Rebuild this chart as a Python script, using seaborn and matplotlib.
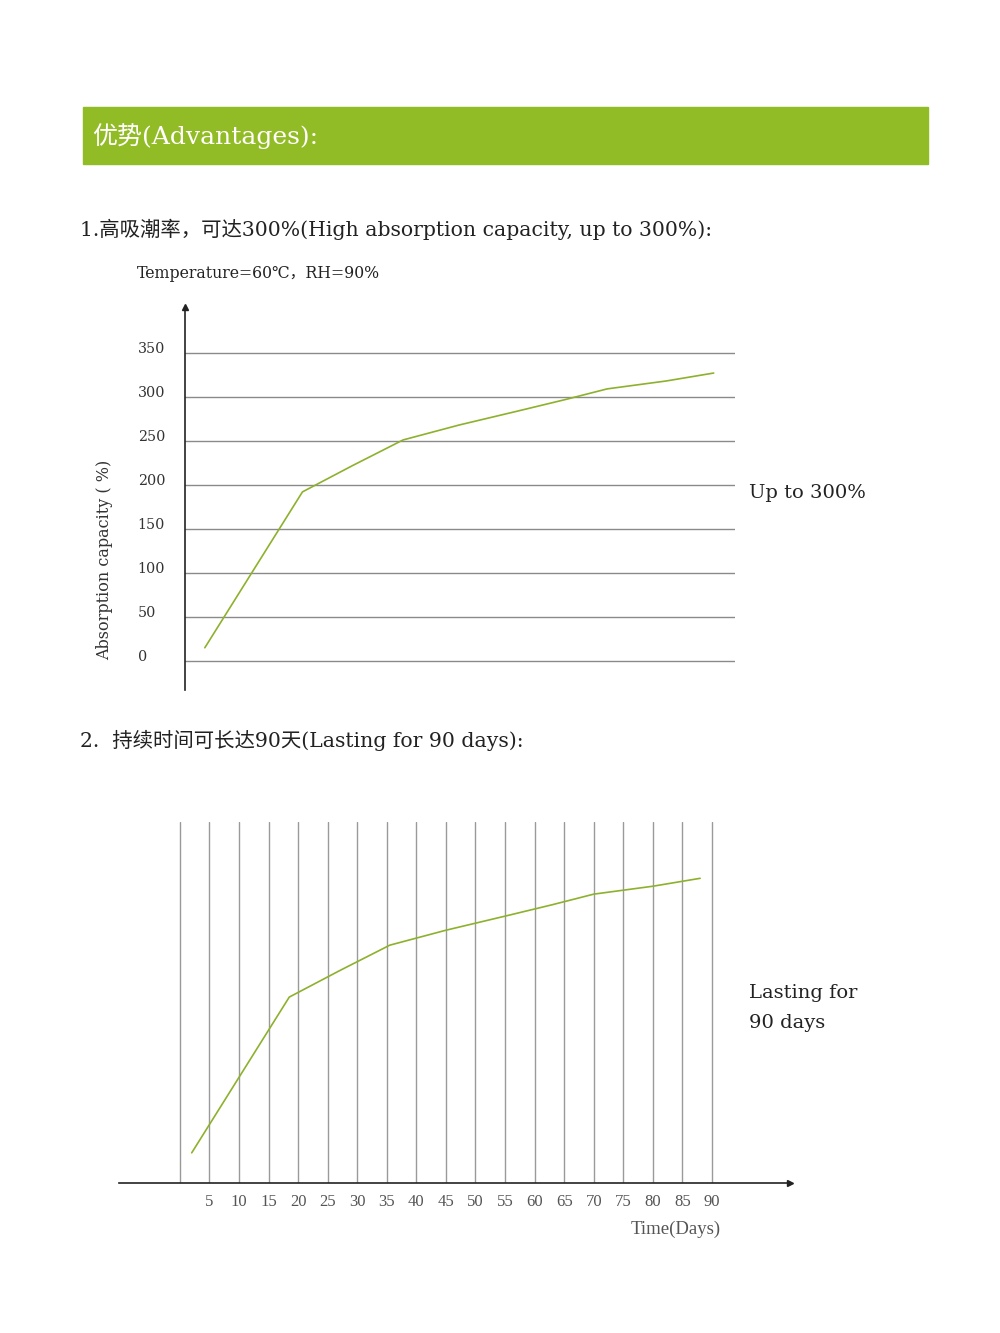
import matplotlib
matplotlib.use("Agg")
import matplotlib.pyplot as plt
import matplotlib.transforms as mtransforms
from matplotlib.patches import Rectangle
import seaborn as sns

sns.set_theme(style="white")
plt.rcParams["font.family"] = ["DejaVu Serif", "Noto Sans CJK SC"]

# data (same curve in both charts)
days = [2, 18.5, 27, 35.5, 45, 55, 63, 70, 80, 88]
absorption = [15, 192, 222, 251, 268, 284, 297, 309, 318, 327]
y_ticks = [0, 50, 100, 150, 200, 250, 300, 350]
x_ticks = [0, 5, 10, 15, 20, 25, 30, 35, 40, 45, 50, 55, 60, 65, 70, 75, 80, 85, 90]
x_ticklabels = [""] + [str(d) for d in x_ticks[1:]]

banner_title = "优势(Advantages):"
title_1 = "1.高吸潮率，可达300%(High absorption capacity, up to 300%):"
title_2 = "2.  持续时间可长达90天(Lasting for 90 days):"
cond_text = "Temperature=60℃，RH=90%"
note_1 = "Up to 300%"
note_2 = "Lasting for\n90 days"

LINE = "#8db12c"
W, H = 1000, 1333


def box(x0, y0, x1, y1):
    # pixel box (top-left origin) -> figure fraction rect
    return [x0 / W, 1 - y1 / H, (x1 - x0) / W, (y1 - y0) / H]


fig = plt.figure(figsize=(10, 13.33), dpi=100)

# green banner
fig.patches.append(Rectangle((83 / W, 1 - 164 / H), 845 / W, 57 / H,
                             transform=fig.transFigure, color="#92bc26", zorder=0))
fig.text(92 / W, 1 - 136 / H, banner_title, color="white", fontsize=18, va="center")

fig.text(80 / W, 1 - 229 / H, title_1, fontsize=14.7, va="center", color="#222222")
fig.text(137 / W, 1 - 273 / H, cond_text, fontsize=11.3, va="center", color="#222222")
fig.text(80 / W, 1 - 740 / H, title_2, fontsize=14.7, va="center", color="#222222")

# ---- chart 1 ----
ax1 = fig.add_axes(box(185, 307, 735, 690))
sns.lineplot(x=days, y=absorption, ax=ax1, color=LINE, linewidth=1.2)
ax1.set_xlim(-1.35, 91.6)
ax1.set_ylim(-33, 402)
ax1.set_yticks(y_ticks)
ax1.set_yticklabels([str(v) for v in y_ticks], ha="left", fontsize=10.3, color="#333333")
ax1.tick_params(axis="y", length=0, pad=34)
off = mtransforms.ScaledTranslation(0, 4 / 72, fig.dpi_scale_trans)
for lab in ax1.get_yticklabels():
    lab.set_transform(lab.get_transform() + off)
ax1.set_xticks([])
ax1.grid(axis="y", color="#8a8a8a", linewidth=1)
for s in ["top", "right", "bottom"]:
    ax1.spines[s].set_visible(False)
ax1.spines["left"].set_color("#222222")
ax1.spines["left"].set_linewidth(1.2)
ax1.plot(0, 1, marker="^", color="#222222", markersize=5,
         transform=ax1.transAxes, clip_on=False)
ax1.set_ylabel("Absorption capacity ( %)", fontsize=11.5, color="#333333")
ax1.yaxis.set_label_coords(-0.13, 0.34)
fig.text(749 / W, 1 - 493 / H, note_1, fontsize=14, va="center", color="#222222")

# ---- chart 2 ----
ax2 = fig.add_axes(box(119, 822, 790, 1183))
sns.lineplot(x=days, y=absorption, ax=ax2, color=LINE, linewidth=1.2)
ax2.set_xlim(-10.3, 103.2)
ax2.set_ylim(-19.3, 391)
ax2.set_yticks([])
ax2.set_xticks(x_ticks)
ax2.set_xticklabels(x_ticklabels, family=["Liberation Serif"], fontsize=12, color="#555555")
ax2.tick_params(axis="x", length=0, pad=8)
ax2.grid(axis="x", color="#9a9a9a", linewidth=1)
for s in ["top", "right", "left"]:
    ax2.spines[s].set_visible(False)
ax2.spines["bottom"].set_color("#222222")
ax2.spines["bottom"].set_linewidth(1.2)
ax2.plot(1, 0, marker=">", color="#222222", markersize=5,
         transform=ax2.transAxes, clip_on=False)
ax2.set_xlabel("Time(Days)", family=["Liberation Serif"], fontsize=13.5,
               color="#555555", ha="right")
ax2.xaxis.set_label_coords((721 - 119) / 671, -0.105)
fig.text(749 / W, 1 - 1008 / H, note_2, fontsize=14, va="center",
         color="#222222", linespacing=1.8)

fig.savefig("out.png", dpi=100)
